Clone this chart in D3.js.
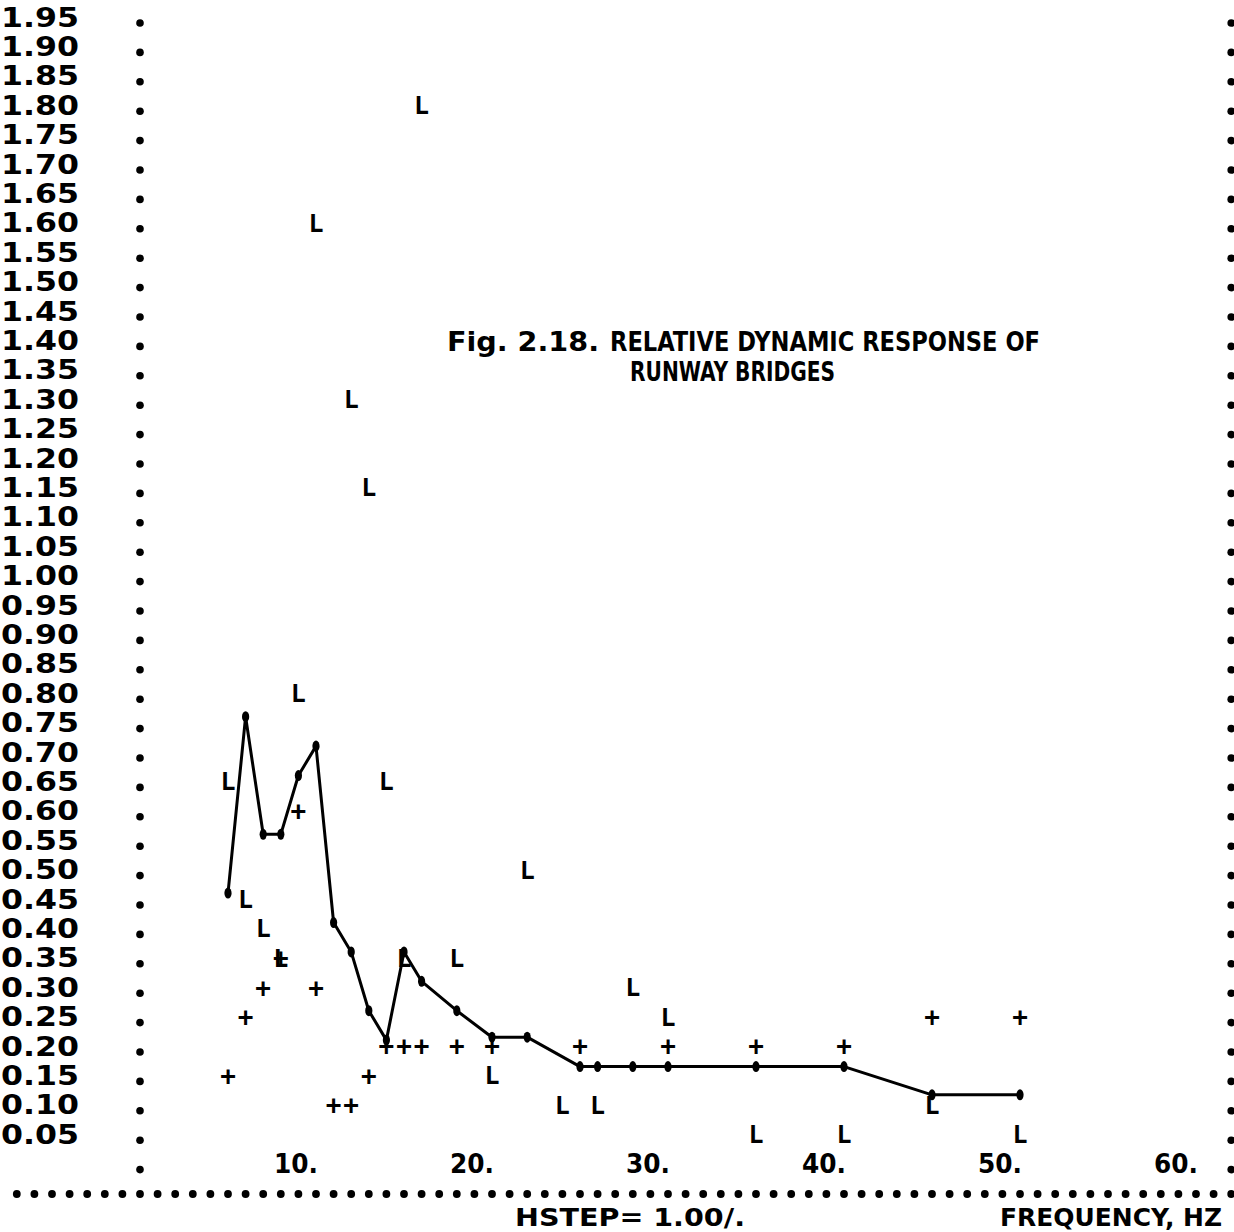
<!DOCTYPE html>
<html>
<head>
<meta charset="utf-8">
<script src="https://cdn.jsdelivr.net/npm/d3@7"></script>
<style>
  body { margin: 0; background: #fff; }
  svg { display: block; }
  text { fill: #000; }
</style>
</head>
<body>
<script>
// printer rows (y tick labels)
var rowLabels = ["1.95","1.90","1.85","1.80","1.75","1.70","1.65","1.60","1.55","1.50",
  "1.45","1.40","1.35","1.30","1.25","1.20","1.15","1.10","1.05","1.00",
  "0.95","0.90","0.85","0.80","0.75","0.70","0.65","0.60","0.55","0.50",
  "0.45","0.40","0.35","0.30","0.25","0.20","0.15","0.10","0.05"];
var freqTicks = [10, 20, 30, 40, 50, 60];

// hand drawn mean curve
var meanF = [5, 6, 7, 8, 9, 10, 11, 12, 13, 14, 15, 16, 18, 20, 22, 25, 26, 28, 30, 35, 40, 45, 50];
var meanV = [0.46, 0.76, 0.56, 0.56, 0.66, 0.71, 0.41, 0.36, 0.26, 0.21, 0.36, 0.31, 0.26,
  0.215, 0.215, 0.165, 0.165, 0.165, 0.165, 0.165, 0.165, 0.117, 0.117];

// "+" points
var plusF = [5, 6, 7, 8, 9, 10, 11, 12, 13, 14, 15, 16, 18, 20, 25, 30, 35, 40, 45, 50];
var plusV = [0.15, 0.25, 0.30, 0.35, 0.60, 0.30, 0.10, 0.10, 0.15, 0.20, 0.20, 0.20, 0.20, 0.20, 0.20, 0.20, 0.20, 0.20, 0.25, 0.25];

// "L" points
var lF = [16, 10, 12, 13, 9, 5, 14, 22, 6, 7, 8, 15, 18, 20, 24, 26, 28, 30, 35, 40, 45, 50];
var lV = [1.80, 1.60, 1.30, 1.15, 0.80, 0.65, 0.65, 0.50, 0.45, 0.40, 0.35, 0.35, 0.35, 0.15, 0.10, 0.10, 0.30, 0.25, 0.05, 0.05, 0.10, 0.05];

var W = 1234, H = 1232;
var svg = d3.select("body").append("svg").attr("width", W).attr("height", H);

var x = d3.scaleLinear().domain([0, 62]).range([140, 1231.2]);
var y = d3.scaleLinear().domain([0, 1.95]).range([1163.6, 17]);

var mono = "'DejaVu Sans Mono', monospace";
var sans = "'DejaVu Sans', sans-serif";

// row labels
svg.selectAll(".ylab").data(rowLabels).enter().append("text")
  .attr("x", 1).attr("y", function(d) { return y(+d) + 9.5; })
  .attr("font-family", sans).attr("font-weight", "bold").attr("font-size", 26)
  .attr("textLength", 78).attr("lengthAdjust", "spacingAndGlyphs")
  .text(function(d) { return d; });

// border dots, left and right, one per printed row (incl. zero row)
var rows = rowLabels.map(Number).concat([0]);
[0, 62].forEach(function(f) {
  svg.selectAll(null).data(rows).enter().append("circle")
    .attr("cx", x(f)).attr("cy", function(d) { return y(d) + 6; })
    .attr("r", 3.8);
});

// frequency labels
svg.selectAll(".xlab").data(freqTicks).enter().append("text")
  .attr("x", function(d) { return x(d) + 2; }).attr("y", y(0) + 9.5)
  .attr("text-anchor", "end")
  .attr("font-family", sans).attr("font-weight", "bold").attr("font-size", 26)
  .attr("textLength", 44).attr("lengthAdjust", "spacingAndGlyphs")
  .text(function(d) { return d + "."; });

// dotted rule under the plot, one dot per printer column
svg.selectAll(".rule").data(d3.range(-7, 63)).enter().append("circle")
  .attr("cx", function(k) { return x(k); }).attr("cy", 1194)
  .attr("r", 3.9);

svg.append("text").attr("x", 515).attr("y", 1226)
  .attr("font-family", sans).attr("font-weight", "bold").attr("font-size", 24)
  .attr("textLength", 230).attr("lengthAdjust", "spacingAndGlyphs")
  .text("HSTEP= 1.00/.");
svg.append("text").attr("x", 1000).attr("y", 1226)
  .attr("font-family", sans).attr("font-weight", "bold").attr("font-size", 24)
  .attr("textLength", 222).attr("lengthAdjust", "spacingAndGlyphs")
  .text("FREQUENCY, HZ");

// title
var cond = "'DejaVu Sans Condensed', 'DejaVu Sans', sans-serif";
function title(str, x0, len, yy) {
  svg.append("text").attr("x", x0).attr("y", yy)
    .attr("font-family", cond).attr("font-weight", "bold").attr("font-size", 27)
    .attr("textLength", len).attr("lengthAdjust", "spacingAndGlyphs")
    .text(str);
}
title("Fig. 2.18.", 447, 152, 351);
title("RELATIVE DYNAMIC RESPONSE OF", 610, 430, 351);
title("RUNWAY BRIDGES", 630, 205, 381);

// mean curve
var meanData = meanF.map(function(f, i) { return [f, meanV[i]]; });
var line = d3.line().x(function(d) { return x(d[0]); }).y(function(d) { return y(d[1]); });
svg.append("path").datum(meanData)
  .attr("d", line).attr("fill", "none")
  .attr("stroke", "#000").attr("stroke-width", 3).attr("stroke-linejoin", "round");
svg.selectAll(".vtx").data(meanData).enter().append("ellipse")
  .attr("cx", function(d) { return x(d[0]); }).attr("cy", function(d) { return y(d[1]); })
  .attr("rx", 3.6).attr("ry", 5.5);

// markers
function marks(fs, vs, ch, size) {
  svg.selectAll(null).data(fs).enter().append("text")
    .attr("x", function(d) { return x(d); })
    .attr("y", function(d, i) { return y(vs[i]) + size * 0.36; })
    .attr("text-anchor", "middle")
    .attr("font-family", mono).attr("font-weight", "bold").attr("font-size", size)
    .text(ch);
}
marks(plusF, plusV, "+", 26);
marks(lF, lV, "L", 25);
</script>
</body>
</html>
